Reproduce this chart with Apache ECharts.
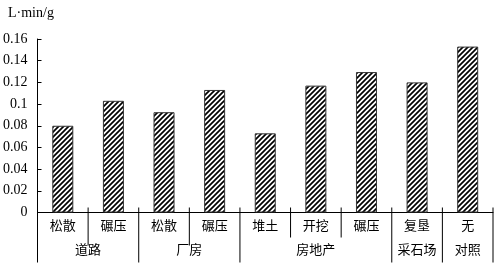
<!DOCTYPE html>
<html><head><meta charset="utf-8">
<script src="https://cdn.jsdelivr.net/npm/echarts@6/dist/echarts.min.js"></script>
<style>html,body{margin:0;padding:0;background:#fff}#c{width:496px;height:265px}</style>
</head><body><div id="c"></div>
<script>
const unitLabel = 'L·min/g';
const categories = ['松散','碾压','松散','碾压','堆土','开挖','碾压','复垦','无'];
const values = [0.080, 0.103, 0.0925, 0.113, 0.073, 0.117, 0.1295, 0.120, 0.153];
const groupNames = ['道路','厂房','房地产','采石场','对照'];
const groupStarts = [0, 2, 4, 7, 8];
const groupSizes = [2, 2, 3, 1, 1];
const yTicks = [0, 0.02, 0.04, 0.06, 0.08, 0.1, 0.12, 0.14, 0.16];

function hatch() {
  const c = document.createElement('canvas');
  c.width = 5; c.height = 5;
  const g = c.getContext('2d');
  g.fillStyle = '#fff'; g.fillRect(0, 0, 5, 5);
  g.strokeStyle = '#000'; g.lineWidth = 1.7;
  g.beginPath();
  g.moveTo(-1, 6); g.lineTo(6, -1);
  g.moveTo(-1, 1); g.lineTo(1, -1);
  g.moveTo(4, 6); g.lineTo(6, 4);
  g.stroke();
  return c;
}

const chart = echarts.init(document.getElementById('c'));
chart.setOption({
  animation: false,
  title: { text: unitLabel, left: 3, top: 1,
    textStyle: { fontFamily: 'Liberation Serif', fontSize: 14, fontWeight: 'normal', color: '#000' } },
  grid: { left: 36, right: 3, top: 39, bottom: 52.5 },
  xAxis: {
    type: 'category', data: categories, boundaryGap: true,
    axisLine: { lineStyle: { color: '#000', width: 1 } },
    axisTick: { show: false },
    axisLabel: { margin: 6, fontSize: 13, color: '#000', fontFamily: 'Noto Sans CJK SC' }
  },
  yAxis: {
    type: 'value', min: yTicks[0], max: yTicks[yTicks.length - 1], interval: 0.02,
    splitLine: { show: false },
    axisLine: { show: true, lineStyle: { color: '#000', width: 1 } },
    axisTick: { show: true, inside: true, length: 4, lineStyle: { color: '#000' } },
    axisLabel: { margin: 10, fontSize: 14, color: '#000', fontFamily: 'Liberation Serif' }
  },
  series: [{
    type: 'bar', data: values, barWidth: 21,
    itemStyle: { color: { image: hatch(), repeat: 'repeat' }, borderColor: '#333', borderWidth: 1 }
  }]
});

// separators and group labels, positioned through the axis scale
const c0 = chart.convertToPixel({ xAxisIndex: 0 }, 0);
const c1 = chart.convertToPixel({ xAxisIndex: 0 }, 1);
const band = c1 - c0;
const boundary = k => c0 - band / 2 + k * band;
const y0 = chart.convertToPixel({ yAxisIndex: 0 }, 0);
const elems = [];
const longB = new Set();
groupStarts.forEach((s, i) => { longB.add(s); longB.add(s + groupSizes[i]); });
for (let k = 0; k <= categories.length; k++) {
  const isLong = longB.has(k);
  let y2 = isLong ? y0 + 50 : (k < 4 ? y0 + 33 : y0 + 25);
  elems.push({ type: 'line', shape: { x1: boundary(k), y1: k === 0 ? y0 : y0 - 5, x2: boundary(k), y2: y2 },
    style: { stroke: '#000', lineWidth: 1 } });
}
groupNames.forEach((n, i) => {
  const cx = boundary(groupStarts[i]) + groupSizes[i] * band / 2;
  elems.push({ type: 'text', x: cx, y: y0 + 37,
    style: { text: n, fill: '#000', font: '13px "Noto Sans CJK SC"', align: 'center', verticalAlign: 'middle' } });
});
chart.setOption({ graphic: elems });
</script></body></html>
